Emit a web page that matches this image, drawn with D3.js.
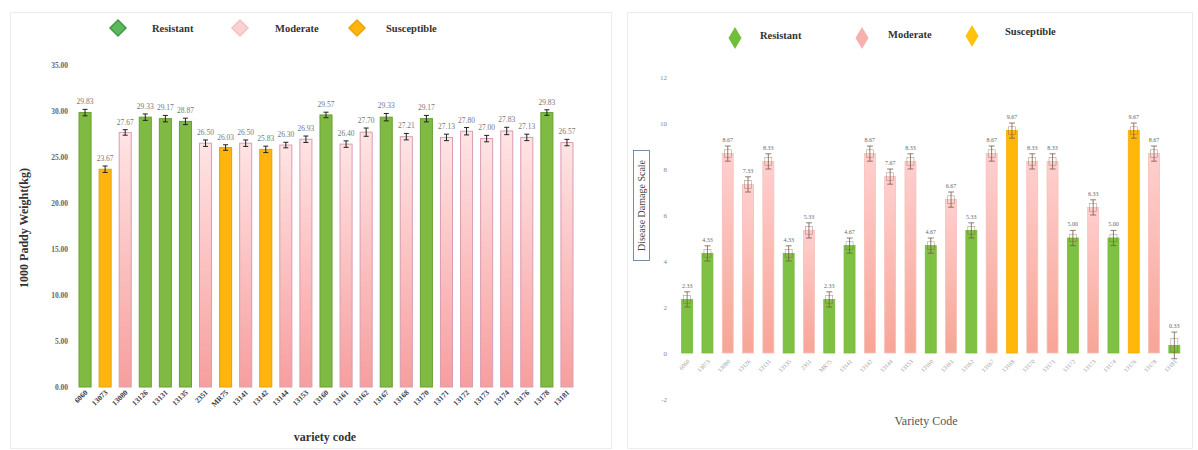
<!DOCTYPE html>
<html>
<head>
<meta charset="utf-8">
<script src="https://cdn.jsdelivr.net/npm/d3@7"></script>
<style>
  html, body { margin: 0; padding: 0; background: #fff; }
  svg { display: block; }
</style>
</head>
<body>
<svg id="chart" width="1198" height="450"></svg>
<script>
// ---- Paddy weight panel ----
const weightCodes = ["6060","13073","13080","13126","13131","13135","2351","MR75","13141","13142",
  "13144","13153","13160","13161","13162","13167","13168","13170","13171","13172",
  "13173","13174","13176","13178","13181"];
const weightClass = ["R","S","M","R","R","R","M","S","M","S","M","M","R","M","M","R","M","R","M","M","M","M","M","R","M"];
const weightValues = [29.83,23.67,27.67,29.33,29.17,28.87,26.50,26.03,26.50,25.83,26.30,26.93,29.57,26.40,27.70,
  29.33,27.21,29.17,27.13,27.80,27.00,27.83,27.13,29.83,26.57];
const weightErrors = [0.35,0.35,0.30,0.35,0.35,0.35,0.35,0.30,0.35,0.35,0.30,0.35,0.30,0.35,0.45,
  0.40,0.35,0.35,0.35,0.40,0.35,0.40,0.35,0.30,0.35];
const weightTicks = [0,5,10,15,20,25,30,35];

// ---- Disease damage panel ----
const damageCodes = ["6060","13073","13080","13126","13131","13135","2351","MR75","13141","13142",
  "13144","13153","13160","13161","13162","13167","13168","13170","13171","13172",
  "13173","13174","13176","13178","13181"];
const damageClass = ["R","R","M","M","M","R","M","R","R","M","M","M","R","M","R","M","S","M","M","R","M","R","S","M","R"];
const damageValues = [2.33,4.33,8.67,7.33,8.33,4.33,5.33,2.33,4.67,8.67,7.67,8.33,4.67,6.67,5.33,
  8.67,9.67,8.33,8.33,5.00,6.33,5.00,9.67,8.67,0.33];
const damageErrors = [0.33,0.33,0.33,0.33,0.33,0.33,0.33,0.33,0.33,0.33,0.33,0.33,0.33,0.33,0.33,
  0.33,0.33,0.33,0.33,0.33,0.33,0.33,0.33,0.33,0.58];
const damageTicks = [-2,0,2,4,6,8,10,12];

const classNames = { R: "Resistant", M: "Moderate", S: "Susceptible" };
const classOrder = ["R", "M", "S"];

const serif = "'Liberation Serif', 'Times New Roman', serif";
const svg = d3.select("#chart");

// gradients for the moderate bars
const defs = svg.append("defs");
function vGrad(id, top, bottom) {
  const g = defs.append("linearGradient").attr("id", id)
    .attr("x1", 0).attr("y1", 0).attr("x2", 0).attr("y2", 1);
  g.append("stop").attr("offset", "0%").attr("stop-color", top);
  g.append("stop").attr("offset", "100%").attr("stop-color", bottom);
}
vGrad("pinkL", "#ffe4e4", "#f79e9e");
vGrad("pinkR", "#ffcfcf", "#f7a596");

// panel frames
svg.append("rect").attr("x", 10.5).attr("y", 12.5).attr("width", 601).attr("height", 436)
  .attr("fill", "none").attr("stroke", "#ececec");
svg.append("rect").attr("x", 627.5).attr("y", 12.5).attr("width", 565).attr("height", 436)
  .attr("fill", "none").attr("stroke", "#ececec");

// ================= Left panel =================
{
  const fill = { R: "#7fbb42", S: "#ffb50d", M: "url(#pinkL)" };
  const stroke = { R: "#6a9e36", S: "#e6a010", M: "#d99cb4" };
  const x = d3.scaleBand().domain(weightCodes).range([75, 577]).paddingInner(0.4).paddingOuter(0.2);
  const y = d3.scaleLinear().domain([0, 35]).range([387, 65]);
  const g = svg.append("g");

  // y axis (labels only)
  const ya = g.append("g").attr("transform", "translate(68,0)")
    .call(d3.axisLeft(y).tickValues(weightTicks).tickSize(0).tickPadding(0).tickFormat(d3.format(".2f")));
  ya.select(".domain").remove();
  ya.selectAll("text").attr("font-family", serif).attr("font-size", 7.5)
    .attr("font-weight", "bold").attr("fill", "#666");

  // x axis (rotated labels)
  const xa = g.append("g").attr("transform", "translate(0,389)")
    .call(d3.axisBottom(x).tickSize(0).tickPadding(0));
  xa.select(".domain").remove();
  xa.selectAll("text").attr("font-family", serif).attr("font-size", 7.5)
    .attr("font-weight", "bold").attr("fill", "#3a3a4a")
    .attr("text-anchor", "end").attr("dy", 0)
    .attr("transform", "translate(3,4) rotate(-45)");

  // bars
  const data = weightCodes.map((c, i) => ({ c, k: weightClass[i], v: weightValues[i], e: weightErrors[i] }));
  g.selectAll("rect.bar").data(data).join("rect").attr("class", "bar")
    .attr("x", d => x(d.c)).attr("width", x.bandwidth())
    .attr("y", d => y(d.v)).attr("height", d => y(0) - y(d.v))
    .attr("fill", d => fill[d.k]).attr("stroke", d => stroke[d.k]).attr("stroke-width", 1);

  // error bars
  const eb = g.selectAll("g.err").data(data).join("g").attr("class", "err")
    .attr("transform", d => `translate(${x(d.c) + x.bandwidth() / 2},0)`);
  eb.append("line").attr("y1", d => y(d.v - d.e)).attr("y2", d => y(d.v + d.e))
    .attr("stroke", "#222").attr("stroke-width", 1);
  eb.append("line").attr("x1", -2.5).attr("x2", 2.5).attr("y1", d => y(d.v + d.e)).attr("y2", d => y(d.v + d.e))
    .attr("stroke", "#222").attr("stroke-width", 1);
  eb.append("line").attr("x1", -2.5).attr("x2", 2.5).attr("y1", d => y(d.v - d.e)).attr("y2", d => y(d.v - d.e))
    .attr("stroke", "#222").attr("stroke-width", 1);

  // value labels
  g.selectAll("text.val").data(data).join("text").attr("class", "val")
    .attr("x", d => x(d.c) + x.bandwidth() / 2).attr("y", d => y(d.v + d.e) - 5)
    .attr("text-anchor", "middle").attr("font-family", serif).attr("font-size", 7.5)
    .attr("fill", "#777").text(d => d.v.toFixed(2));

  // axis titles
  g.append("text").attr("transform", "translate(28,228) rotate(-90)")
    .attr("text-anchor", "middle").attr("font-family", serif).attr("font-size", 12)
    .attr("font-weight", "bold").attr("fill", "#333").text("1000 Paddy Weight(kg)");
  g.append("text").attr("x", 325).attr("y", 441)
    .attr("text-anchor", "middle").attr("font-family", serif).attr("font-size", 12)
    .attr("font-weight", "bold").attr("fill", "#333").text("variety  code");

  // legend
  const lgFill = { R: "#5cb85c", M: "#fbd0d0", S: "#ffb50d" };
  const lgStroke = { R: "#3f9a44", M: "#f4c0c0", S: "#eaa40a" };
  const lgX = { R: 118, M: 240, S: 357 };
  const lgTx = { R: 152, M: 275, S: 386 };
  classOrder.forEach(k => {
    g.append("path").attr("d", "M0,-8L8,0L0,8L-8,0Z")
      .attr("transform", `translate(${lgX[k]},28)`)
      .attr("fill", lgFill[k]).attr("stroke", lgStroke[k]).attr("stroke-width", 1.5);
    g.append("text").attr("x", lgTx[k]).attr("y", 31.5)
      .attr("font-family", serif).attr("font-size", 10.5).attr("font-weight", "bold")
      .attr("fill", "#333").text(classNames[k]);
  });
}

// ================= Right panel =================
{
  const fill = { R: "#7fc142", S: "#ffb80a", M: "url(#pinkR)" };
  const stroke = { R: "#78b83e", S: "#f5ac08", M: "#f6c0b8" };
  const x = d3.scaleBand().domain(damageCodes).range([677, 1184.5]).paddingInner(0.46).paddingOuter(0.23);
  const y = d3.scaleLinear().domain([-2, 12]).range([399, 77]);
  const g = svg.append("g");

  const ya = g.append("g").attr("transform", "translate(667,0)")
    .call(d3.axisLeft(y).tickValues(damageTicks).tickSize(0).tickPadding(0).tickFormat(d => String(d)));
  ya.select(".domain").remove();
  ya.selectAll("text").attr("font-family", serif).attr("font-size", 7).attr("fill", "#888");

  const xa = g.append("g").attr("transform", "translate(0,358)")
    .call(d3.axisBottom(x).tickSize(0).tickPadding(0));
  xa.select(".domain").remove();
  xa.selectAll("text").attr("font-family", serif).attr("font-size", 6)
    .attr("fill", "#a0a0a0").attr("text-anchor", "end").attr("dy", 0)
    .attr("transform", "translate(3,4) rotate(-45)");

  const data = damageCodes.map((c, i) => ({ c, k: damageClass[i], v: damageValues[i], e: damageErrors[i] }));
  g.selectAll("rect.bar").data(data).join("rect").attr("class", "bar")
    .attr("x", d => x(d.c)).attr("width", x.bandwidth())
    .attr("y", d => y(d.v)).attr("height", d => y(0) - y(d.v))
    .attr("fill", d => fill[d.k]).attr("stroke", d => stroke[d.k]).attr("stroke-width", 0.8);

  // error bars with a small box around the mean
  const eb = g.selectAll("g.err").data(data).join("g").attr("class", "err")
    .attr("transform", d => `translate(${x(d.c) + x.bandwidth() / 2},0)`);
  const ec = "#7a5a4a";
  eb.append("line").attr("y1", d => y(d.v - d.e)).attr("y2", d => y(d.v + d.e))
    .attr("stroke", ec).attr("stroke-width", 0.8);
  eb.append("line").attr("x1", -3).attr("x2", 3).attr("y1", d => y(d.v + d.e)).attr("y2", d => y(d.v + d.e))
    .attr("stroke", ec).attr("stroke-width", 0.8);
  eb.append("line").attr("x1", -3).attr("x2", 3).attr("y1", d => y(d.v - d.e)).attr("y2", d => y(d.v - d.e))
    .attr("stroke", ec).attr("stroke-width", 0.8);
  eb.append("rect").attr("x", -3.5).attr("width", 7)
    .attr("y", d => y(d.v + d.e / 2)).attr("height", d => y(d.v - d.e / 2) - y(d.v + d.e / 2))
    .attr("fill", "none").attr("stroke", ec).attr("stroke-width", 0.5).attr("opacity", 0.7);

  g.selectAll("text.val").data(data).join("text").attr("class", "val")
    .attr("x", d => x(d.c) + x.bandwidth() / 2).attr("y", d => y(d.v + d.e) - 4)
    .attr("text-anchor", "middle").attr("font-family", serif).attr("font-size", 6)
    .attr("fill", "#666").text(d => d.v.toFixed(2));

  // boxed y-axis title
  g.append("rect").attr("x", 633.5).attr("y", 150.5).attr("width", 16).attr("height", 110)
    .attr("fill", "none").attr("stroke", "#5d6f90").attr("stroke-width", 0.8);
  g.append("text").attr("transform", "translate(645,205.5) rotate(-90)")
    .attr("text-anchor", "middle").attr("font-family", serif).attr("font-size", 10)
    .attr("fill", "#444").text("Disease Damage Scale");
  g.append("text").attr("x", 926).attr("y", 425)
    .attr("text-anchor", "middle").attr("font-family", serif).attr("font-size", 12)
    .attr("fill", "#555").text("Variety Code");

  // legend
  const lgFill = { R: "#6fbf3a", M: "#f7b0ae", S: "#ffc20e" };
  const lgX = { R: 735, M: 862, S: 972 };
  const lgY = { R: 38, M: 38, S: 36 };
  const lgTx = { R: 760, M: 888, S: 1005 };
  const lgTy = { R: 38.5, M: 37.5, S: 34.5 };
  classOrder.forEach(k => {
    g.append("path").attr("d", "M0,-11L6.5,0L0,11L-6.5,0Z")
      .attr("transform", `translate(${lgX[k]},${lgY[k]})`)
      .attr("fill", lgFill[k]);
    g.append("text").attr("x", lgTx[k]).attr("y", lgTy[k])
      .attr("font-family", serif).attr("font-size", 10.5).attr("font-weight", "bold")
      .attr("fill", "#333").text(classNames[k]);
  });
}
</script>
</body>
</html>
